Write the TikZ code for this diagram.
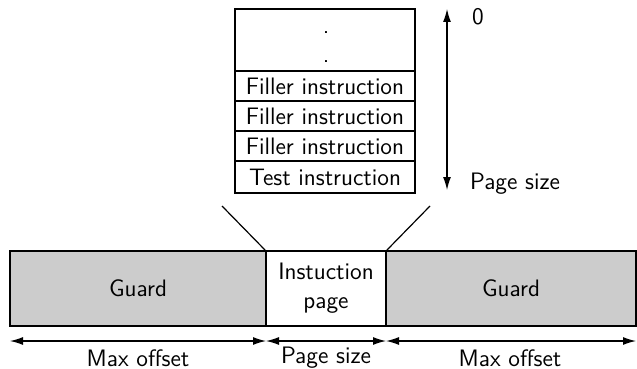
\documentclass[tikz,border=0pt]{standalone}
\usepackage{fontspec}
\usetikzlibrary{arrows.meta}
\definecolor{guardgray}{HTML}{CCCCCC}
\begin{document}
\begin{tikzpicture}[x=0.5pt,y=-0.5pt,
  font=\fontsize{11.9}{14.5}\selectfont\sffamily,
  cell/.style={draw,line width=0.7pt,minimum width=90pt,minimum height=15pt,inner sep=0pt},
  barbox/.style={draw,line width=0.9pt,minimum height=37.5pt,inner sep=0pt,align=center},
  guardbox/.style={barbox,fill=guardgray},
  dimarrow/.style={line width=0.6pt,{Latex[length=6.5pt,width=4pt]}-{Latex[length=6.5pt,width=4pt]}},
  thinline/.style={line width=0.6pt}]
\useasboundingbox (0,0) rectangle (637,369);
% instruction page content
\node[cell,minimum height=31pt] (top) at (325,40) {};
\node[anchor=base] (d1) at (326,34) {.};
\node[anchor=base] (d2) at (326,63) {.};
\node[cell] (f1) at (325,86) {Filler instruction};
\node[cell] (f2) at (325,116) {Filler instruction};
\node[cell] (f3) at (325,146) {Filler instruction};
\node[cell,minimum height=16pt] (t) at (325,177) {Test instruction};
% vertical dimension
\coordinate (a0) at (447,9);
\coordinate (a1) at (447,190);
\draw[dimarrow] (a0) -- (a1);
\node[anchor=west] (zero) at (465,17) {0};
\node[anchor=west] (ps1) at (463,184) {Page size};
% bottom bar
\node[guardbox,minimum width=128pt] (g1) at (138,288.5) {Guard};
\node[barbox,minimum width=60pt] (pg) at (326,288.5) {Instuction\\page};
\node[guardbox,minimum width=125pt] (g2) at (511,288.5) {Guard};
% zoom lines
\coordinate (l1) at (222,206);
\coordinate (r1) at (430,206);
\draw[thinline] (l1) -- (pg.north west);
\draw[thinline] (r1) -- (pg.north east);
% bottom dimensions
\coordinate (b0) at (10,341);
\coordinate (b1) at (266,341);
\coordinate (b2) at (386,341);
\coordinate (b3) at (636,341);
\draw[dimarrow] (b0) -- (b1);
\draw[dimarrow] (b1) -- (b2);
\draw[dimarrow] (b2) -- (b3);
\node (m1) at (138,358) {Max offset};
\node (ps2) at (326,358) {Page size};
\node (m2) at (510,358) {Max offset};
\end{tikzpicture}
\end{document}
